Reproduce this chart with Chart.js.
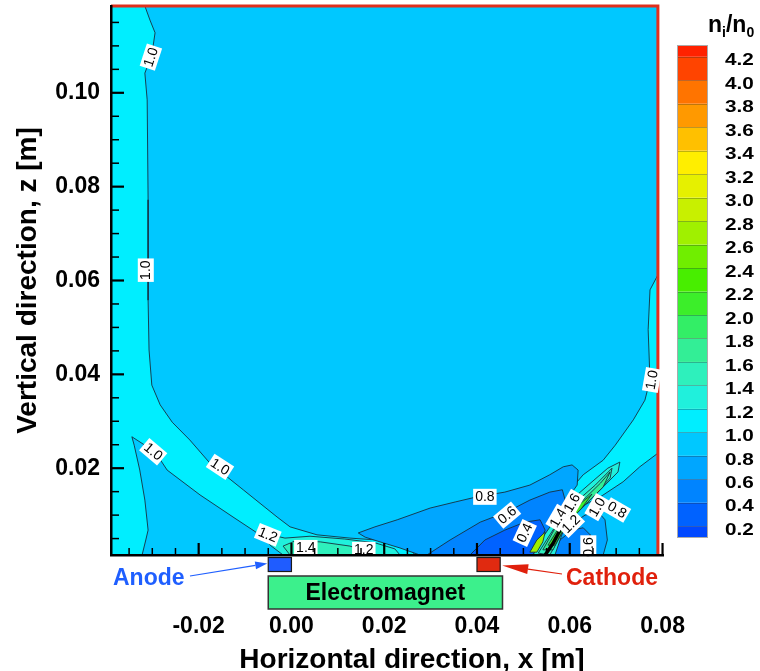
<!DOCTYPE html>
<html>
<head>
<meta charset="utf-8">
<script src="https://cdn.jsdelivr.net/npm/chart.js@4.4.1/dist/chart.umd.min.js"></script>
<style>
html,body{margin:0;padding:0;background:#fff;}
#wrap{width:760px;height:671px;position:relative;}
</style>
</head>
<body>
<div id="wrap"><canvas id="c" width="760" height="671"></canvas></div>
<script>
const FONT = '"Liberation Sans", Arial, Helvetica, sans-serif';

// ---- axes ----
const xRange = [-0.0389, 0.0801];
const yRange = [0.0015, 0.1185];
const xMajorTicks = [-0.02, 0.00, 0.02, 0.04, 0.06, 0.08];
const xMinorTicks = [-0.035,-0.03,-0.025,-0.015,-0.01,-0.005,0.005,0.01,0.015,0.025,0.03,0.035,0.045,0.05,0.055,0.065,0.07,0.075];
const yMajorTicks = [0.02, 0.04, 0.06, 0.08, 0.10];
const yMinorTicks = [0.005,0.01,0.015,0.025,0.03,0.035,0.045,0.05,0.055,0.065,0.07,0.075,0.085,0.09,0.095,0.105,0.11,0.115];

// ---- colour levels n_i/n_0 ----
const cbLevels = [0.2,0.4,0.6,0.8,1.0,1.2,1.4,1.6,1.8,2.0,2.2,2.4,2.6,2.8,3.0,3.2,3.4,3.6,3.8,4.0,4.2];
const levelColors = ['#0048ff','#0062ff','#0084ff','#00a6ff','#00c8ff','#00eeff','#20f0dc','#2ef0bc',
                     '#33ee96','#33ee66','#3cee2a','#48ee00','#70ee00','#a0f000','#c8f000','#e6f000',
                     '#ffee00','#ffc000','#ff9900','#ff7400','#ff4400','#ff2200'];

// ---- contour regions (x [m], z [m]) ----
const domainFill = [[-0.0389,0.0015],[-0.0389,0.1185],[0.0790,0.1185],[0.0790,0.0015]];
const leftBand10 = [[-0.0389,0.1185],[-0.0316,0.1185],[-0.0305,0.1155],[-0.0294,0.1128],[-0.0301,0.1081],[-0.0316,0.1042],[-0.0311,0.0985],[-0.0309,0.0772],[-0.0309,0.0558],[-0.0307,0.0452],[-0.0301,0.0377],[-0.0283,0.0335],[-0.0257,0.0298],[-0.0219,0.0260],[-0.0176,0.0211],[-0.0104,0.0154],[-0.0031,0.0096],[-0.0003,0.0075],[0.0055,0.0058],[0.0126,0.0051],[0.0213,0.0045],[0.0256,0.0030],[0.0266,0.0015],[-0.0389,0.0015]];
const leftWedge08 = [[-0.0344,0.0267],[-0.0316,0.0249],[-0.0294,0.0235],[-0.0268,0.0196],[-0.0197,0.0143],[-0.0126,0.0096],[-0.0074,0.0062],[-0.0035,0.0036],[-0.0014,0.0015],[-0.0322,0.0015],[-0.0314,0.0047],[-0.0309,0.0068],[-0.0316,0.0132],[-0.0327,0.0196],[-0.0339,0.0249]];
const bottom12 = [[-0.0063,0.0062],[-0.0014,0.0051],[0.0040,0.0055],[0.0115,0.0049],[0.0180,0.0041],[0.0223,0.0028],[0.0234,0.0015],[-0.0018,0.0015],[-0.0046,0.0036]];
const bottom14 = [[-0.0018,0.0034],[0.0008,0.0045],[0.0062,0.0043],[0.0126,0.0034],[0.0159,0.0024],[0.0165,0.0015],[-0.0003,0.0015]];
const rightBand10 = [[0.0790,0.0612],[0.0773,0.0580],[0.0769,0.0495],[0.0773,0.0388],[0.0762,0.0345],[0.0737,0.0303],[0.0698,0.0249],[0.0672,0.0217],[0.0629,0.0186],[0.0601,0.0154],[0.0568,0.0100],[0.0536,0.0047],[0.0521,0.0015],[0.0562,0.0015],[0.0590,0.0079],[0.0622,0.0117],[0.0666,0.0139],[0.0715,0.0171],[0.0751,0.0203],[0.0790,0.0232]];
const lobe08 = [[0.0144,0.0062],[0.0180,0.0075],[0.0228,0.0090],[0.0299,0.0115],[0.0353,0.0128],[0.0400,0.0139],[0.0460,0.0149],[0.0514,0.0164],[0.0557,0.0186],[0.0586,0.0203],[0.0605,0.0207],[0.0618,0.0196],[0.0616,0.0164],[0.0596,0.0136],[0.0568,0.0100],[0.0540,0.0047],[0.0525,0.0015],[0.0277,0.0015],[0.0234,0.0030],[0.0191,0.0043],[0.0159,0.0053]];
const lobe06 = [[0.0292,0.0015],[0.0342,0.0047],[0.0407,0.0085],[0.0465,0.0107],[0.0514,0.0132],[0.0557,0.0149],[0.0584,0.0154],[0.0590,0.0132],[0.0568,0.0094],[0.0547,0.0047],[0.0536,0.0015]];
const core04 = [[0.0385,0.0015],[0.0417,0.0047],[0.0460,0.0068],[0.0503,0.0085],[0.0536,0.0090],[0.0547,0.0068],[0.0532,0.0036],[0.0521,0.0015]];
const rightLow08 = [[0.0557,0.0015],[0.0575,0.0051],[0.0601,0.0079],[0.0633,0.0100],[0.0661,0.0107],[0.0676,0.0090],[0.0681,0.0047],[0.0672,0.0015]];
const rightLow06 = [[0.0564,0.0015],[0.0579,0.0047],[0.0605,0.0068],[0.0629,0.0073],[0.0644,0.0058],[0.0644,0.0015]];
const spike12 = [[0.0521,0.0015],[0.0542,0.0053],[0.0575,0.0100],[0.0611,0.0139],[0.0648,0.0171],[0.0682,0.0200],[0.0708,0.0213],[0.0704,0.0192],[0.0676,0.0164],[0.0644,0.0132],[0.0611,0.0100],[0.0585,0.0064],[0.0568,0.0015]];
const spike14 = [[0.0532,0.0019],[0.0557,0.0058],[0.0585,0.0100],[0.0618,0.0132],[0.0655,0.0164],[0.0691,0.0200],[0.0687,0.0179],[0.0659,0.0149],[0.0626,0.0119],[0.0596,0.0085],[0.0575,0.0047],[0.0557,0.0015]];
const spike16 = [[0.0542,0.0026],[0.0566,0.0068],[0.0601,0.0107],[0.0633,0.0136],[0.0666,0.0168],[0.0687,0.0192],[0.0672,0.0160],[0.0639,0.0128],[0.0611,0.0100],[0.0583,0.0064],[0.0564,0.0026]];
const spike20 = [[0.0553,0.0036],[0.0579,0.0077],[0.0611,0.0115],[0.0648,0.0145],[0.0626,0.0115],[0.0592,0.0079],[0.0568,0.0036]];
const spike26 = [[0.0514,0.0021],[0.0529,0.0047],[0.0547,0.0064],[0.0542,0.0043],[0.0529,0.0021]];
const steepLine = [[0.0547,0.0015],[0.0564,0.0040],[0.0579,0.0068],[0.0592,0.0085]];
const domainEdge = [[-0.0389,0.1185],[0.0790,0.1185],[0.0790,0.0015]];

// contour labels: text, x, z, angle (deg)
const contourLabels = [
  ['1.0',-0.0303,0.1076,-72],['1.0',-0.0314,0.0622,-90],['1.0',-0.0298,0.0235,40],['1.0',-0.0154,0.0203,33],
  ['1.2',-0.0051,0.0058,22],['1.4',0.0031,0.0030,0],['1.2',0.0156,0.0026,0],['0.8',0.0417,0.0139,0],
  ['0.6',0.0465,0.0100,-40],['0.4',0.0503,0.0062,-65],['1.4',0.0575,0.0094,-60],['1.6',0.0605,0.0126,-60],
  ['1.2',0.0603,0.0081,-45],['1.0',0.0659,0.0117,-60],['0.8',0.0702,0.0111,30],['1.0',0.0777,0.0388,-80],
  ['0.6',0.0640,0.0032,-90]
];

// electrodes / magnet spans along x [m]
const anodeSpan = [-0.005, 0.000];
const cathodeSpan = [0.040, 0.045];
const magnetSpan = [-0.005, 0.0455];

const regions = [
  {pts: domainFill, bin: 4, line: false},
  {pts: leftBand10, bin: 5, line: true},
  {pts: leftWedge08, bin: 4, line: true},
  {pts: bottom12, bin: 6, line: true},
  {pts: bottom14, bin: 7, line: true},
  {pts: rightBand10, bin: 5, line: true},
  {pts: lobe08, bin: 3, line: true},
  {pts: lobe06, bin: 2, line: true},
  {pts: core04, bin: 1, line: true},
  {pts: rightLow08, bin: 3, line: true},
  {pts: rightLow06, bin: 2, line: true},
  {pts: spike12, bin: 6, line: true},
  {pts: spike14, bin: 7, line: true},
  {pts: spike16, bin: 8, line: true},
  {pts: spike20, bin: 10, line: true},
  {pts: spike26, bin: 13, line: true}
];

const toXY = a => a.map(p => ({x: p[0], y: p[1]}));
const datasets = regions.map((r, i) => ({
  data: toXY(r.pts.concat([r.pts[0]])),
  backgroundColor: levelColors[r.bin],
  borderColor: r.line ? '#163040' : 'rgba(0,0,0,0)',
  borderWidth: r.line ? 0.9 : 0,
  fill: 'shape',
  pointRadius: 0,
  tension: 0,
  order: -i
}));
datasets.push({data: toXY(steepLine), borderColor: '#000', borderWidth: 3.5, fill: false, pointRadius: 0, order: -100});
datasets.push({data: toXY(domainEdge), borderColor: '#e0301e', borderWidth: 3, fill: false, pointRadius: 0, order: -101, clip: false});

function seg(ctx, x1, y1, x2, y2, w) {
  ctx.lineWidth = w; ctx.beginPath(); ctx.moveTo(x1, y1); ctx.lineTo(x2, y2); ctx.stroke();
}
function arrow(ctx, x1, y1, x2, y2, color, hl, hw) {
  ctx.strokeStyle = color; ctx.fillStyle = color;
  const a = Math.atan2(y2 - y1, x2 - x1);
  const bx = x2 - hl * Math.cos(a), by = y2 - hl * Math.sin(a);
  seg(ctx, x1, y1, bx, by, 1.2);
  ctx.beginPath();
  ctx.moveTo(x2, y2);
  ctx.lineTo(bx + hw * Math.sin(a), by - hw * Math.cos(a));
  ctx.lineTo(bx - hw * Math.sin(a), by + hw * Math.cos(a));
  ctx.closePath(); ctx.fill();
}

const extras = {
  id: 'extras',
  afterDatasetsDraw(chart) {
    const {ctx, scales: {x, y}, chartArea: ca} = chart;
    ctx.save();
    contourLabels.forEach(([t, vx, vy, ang]) => {
      const px = x.getPixelForValue(vx), py = y.getPixelForValue(vy);
      ctx.save();
      ctx.translate(px, py); ctx.rotate(ang * Math.PI / 180);
      ctx.font = '14px ' + FONT;
      const w = ctx.measureText(t).width;
      ctx.fillStyle = '#fff'; ctx.fillRect(-w / 2 - 2, -8, w + 4, 16);
      ctx.fillStyle = '#000'; ctx.textAlign = 'center'; ctx.textBaseline = 'middle';
      ctx.fillText(t, 0, 0.5);
      ctx.restore();
    });
    ctx.strokeStyle = '#000';
    xMajorTicks.forEach(v => { const p = x.getPixelForValue(v); seg(ctx, p, ca.bottom, p, ca.bottom - 12, 2.2); });
    xMinorTicks.forEach(v => { const p = x.getPixelForValue(v); seg(ctx, p, ca.bottom, p, ca.bottom - 7, 1.5); });
    yMajorTicks.forEach(v => { const p = y.getPixelForValue(v); seg(ctx, ca.left, p, ca.left + 13, p, 2.2); });
    yMinorTicks.forEach(v => { const p = y.getPixelForValue(v); seg(ctx, ca.left, p, ca.left + 8, p, 1.5); });
    ctx.restore();
  },
  afterDraw(chart) {
    const {ctx, scales: {x}, chartArea: ca} = chart;
    ctx.save();
    const cbTop = 45, cbBot = 538, cbL = 677, cbR = 708, vTop = 4.3, vBot = 0.1;
    const vy = v => cbBot - (v - vBot) / (vTop - vBot) * (cbBot - cbTop);
    const edges = [vBot].concat(cbLevels, [vTop]);
    for (let k = 0; k < levelColors.length; k++) {
      const y0 = vy(edges[k]), y1 = vy(edges[k + 1]);
      ctx.fillStyle = levelColors[k];
      ctx.fillRect(cbL, y1, cbR - cbL, y0 - y1);
    }
    ctx.strokeStyle = 'rgba(40,40,40,0.3)'; ctx.lineWidth = 1;
    cbLevels.forEach(v => { const yy = Math.round(vy(v)) + 0.5; ctx.beginPath(); ctx.moveTo(cbL, yy); ctx.lineTo(cbR, yy); ctx.stroke(); });
    ctx.strokeStyle = '#aaa'; ctx.strokeRect(cbL + 0.5, cbTop + 0.5, cbR - cbL - 1, cbBot - cbTop - 1);
    ctx.fillStyle = '#000'; ctx.textAlign = 'left'; ctx.textBaseline = 'middle';
    ctx.font = 'bold 17px ' + FONT;
    cbLevels.forEach(v => {
      ctx.save(); ctx.translate(725, vy(v) + 4); ctx.scale(1.22, 1);
      ctx.fillText(v.toFixed(1), 0, 0); ctx.restore();
    });
    ctx.textBaseline = 'alphabetic';
    let tx = 708;
    const part = (s, size, dy) => { ctx.font = 'bold ' + size + 'px ' + FONT; ctx.fillText(s, tx, 32 + dy); tx += ctx.measureText(s).width; };
    part('n', 23, 0); part('i', 14, 5); part('/', 23, 0); part('n', 23, 0); part('0', 14, 5);

    const ax0 = x.getPixelForValue(anodeSpan[0]), ax1 = x.getPixelForValue(anodeSpan[1]);
    const cx0 = x.getPixelForValue(cathodeSpan[0]), cx1 = x.getPixelForValue(cathodeSpan[1]);
    const mx0 = x.getPixelForValue(magnetSpan[0]), mx1 = x.getPixelForValue(magnetSpan[1]);
    const eTop = ca.bottom + 2.5, eH = 14;
    ctx.lineWidth = 1.2; ctx.strokeStyle = '#1a1a1a';
    ctx.fillStyle = '#1f5cff'; ctx.fillRect(ax0, eTop, ax1 - ax0, eH); ctx.strokeRect(ax0, eTop, ax1 - ax0, eH);
    ctx.fillStyle = '#e02a10'; ctx.fillRect(cx0, eTop, cx1 - cx0, eH); ctx.strokeRect(cx0, eTop, cx1 - cx0, eH);
    const mTop = ca.bottom + 21, mH = 33;
    ctx.fillStyle = '#3cf08c'; ctx.fillRect(mx0, mTop, mx1 - mx0, mH);
    ctx.lineWidth = 1.5; ctx.strokeStyle = '#333'; ctx.strokeRect(mx0, mTop, mx1 - mx0, mH);
    ctx.fillStyle = '#000'; ctx.font = 'bold 23px ' + FONT; ctx.textAlign = 'center'; ctx.textBaseline = 'middle';
    ctx.fillText('Electromagnet', (mx0 + mx1) / 2, mTop + mH / 2 + 1);

    ctx.textAlign = 'left'; ctx.textBaseline = 'alphabetic'; ctx.font = 'bold 23px ' + FONT;
    ctx.fillStyle = '#1f5fff'; ctx.fillText('Anode', 113, 585);
    ctx.fillStyle = '#e0200c'; ctx.fillText('Cathode', 566, 585);
    arrow(ctx, 190, 576, ax0 - 1, eTop + 6, '#1f5fff', 12, 4);
    arrow(ctx, 562, 574, cx1 + 2, eTop + 8, '#e0200c', 26, 5);

    ctx.fillStyle = '#000'; ctx.font = 'bold 28px ' + FONT; ctx.textAlign = 'center'; ctx.textBaseline = 'alphabetic';
    ctx.fillText('Horizontal direction, x [m]', 412, 668);
    ctx.restore();
  }
};

const noPad = s => { s.paddingTop = 0; s.paddingBottom = 0; s.paddingLeft = 0; s.paddingRight = 0; };

new Chart(document.getElementById('c').getContext('2d'), {
  type: 'line',
  data: {datasets: datasets},
  options: {
    responsive: false,
    animation: false,
    devicePixelRatio: 1,
    layout: {padding: {left: 0, right: 97, top: 6, bottom: 0}},
    plugins: {legend: {display: false}, tooltip: {enabled: false}},
    scales: {
      x: {
        type: 'linear', min: xRange[0], max: xRange[1],
        grid: {display: false, drawTicks: false},
        border: {display: true, color: '#000', width: 2.5, z: 1},
        afterBuildTicks: s => { s.ticks = xMajorTicks.map(v => ({value: v})); },
        afterFit: s => { s.height = 116; noPad(s); },
        ticks: {color: '#000', font: {family: FONT, size: 23, weight: 'bold'}, padding: 58, maxRotation: 0, autoSkip: false,
                callback: v => Number(v).toFixed(2)}
      },
      y: {
        type: 'linear', min: yRange[0], max: yRange[1],
        grid: {display: false, drawTicks: false},
        border: {display: true, color: '#000', width: 2.5, z: 1},
        afterBuildTicks: s => { s.ticks = yMajorTicks.map(v => ({value: v})); },
        afterFit: s => { s.width = 111; noPad(s); },
        ticks: {color: '#000', font: {family: FONT, size: 23, weight: 'bold'}, padding: 11, autoSkip: false,
                callback: v => Number(v).toFixed(2)},
        title: {display: true, text: 'Vertical direction, z [m]', color: '#000',
                font: {family: FONT, size: 28, weight: 'bold'}, padding: {top: 11, bottom: 0}}
      }
    }
  },
  plugins: [extras]
});
</script>
</body>
</html>
